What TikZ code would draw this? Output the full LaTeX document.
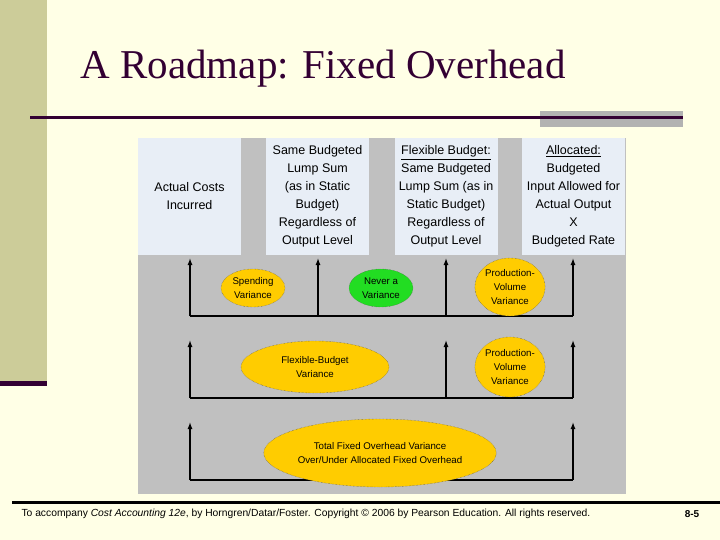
\documentclass[tikz,border=0pt]{standalone}
\usepackage{fontspec}
\setmainfont{Liberation Serif}
\setsansfont{Liberation Sans}
\usetikzlibrary{shapes.geometric,arrows.meta}
\definecolor{cream}{HTML}{FFFFE6}
\definecolor{olive}{HTML}{CCCC99}
\definecolor{plum}{HTML}{330033}
\definecolor{panel}{HTML}{C0C0C0}
\definecolor{hdr}{HTML}{E8EEF6}
\definecolor{gold}{HTML}{FFCC00}
\definecolor{grn}{HTML}{22DD22}
\tikzset{
 hbox/.style={fill=hdr,draw=none,minimum width=103pt,minimum height=117pt,inner sep=0pt,align=center,font=\sffamily\fontsize{12.5}{18}\selectfont,text=black},
 var/.style={ellipse,draw=black!70,densely dotted,fill=gold,inner sep=0pt,align=center,font=\sffamily\fontsize{9.7}{14}\selectfont},
 arr/.style={-{Latex[length=7pt,width=5pt]},line width=1.3pt},
 base/.style={line width=1.3pt}
}
\begin{document}
\begin{tikzpicture}[x=1pt,y=-1pt]
\fill[cream] (0,0) rectangle (720,540);
\useasboundingbox (0,0) rectangle (720,540);
\fill[olive] (0,0) rectangle (47,385);
\fill[plum] (0,381) rectangle (47,386);
\fill[black!30] (540,111) rectangle (683,127);
\fill[plum] (30,116) rectangle (683,119);
\node[anchor=west,font=\fontsize{41}{44}\selectfont,text=plum] (title) at (77,69) {A Roadmap: Fixed Overhead};
\fill[panel] (138,138) rectangle (626,494);
\node[hbox] (h1) at (189.5,196.5) {Actual Costs\\Incurred};
\node[hbox] (h2) at (317.5,196.5) {Same Budgeted\\Lump Sum\\(as in Static\\Budget)\\Regardless of\\Output Level};
\node[hbox] (h3) at (446,196.5) {\underline{Flexible Budget:}\\Same Budgeted\\Lump Sum (as in\\Static Budget)\\Regardless of\\Output Level};
\node[hbox] (h4) at (573.5,196.5) {\underline{Allocated:}\\Budgeted\\Input Allowed for\\Actual Output\\X\\Budgeted Rate};
% row 1
\coordinate (a1) at (190,316); \coordinate (b1) at (318,316); \coordinate (c1) at (446,316); \coordinate (d1) at (573,316);
\coordinate (ta1) at (190,258); \coordinate (tb1) at (318,258); \coordinate (tc1) at (446,258); \coordinate (td1) at (573,258);
\draw[base] (a1) -- (d1);
\draw[arr] (a1) -- (ta1); \draw[arr] (b1) -- (tb1); \draw[arr] (c1) -- (tc1); \draw[arr] (d1) -- (td1);
\node[var,minimum width=64pt,minimum height=38pt] (sv) at (253,288) {Spending\\Variance};
\node[var,fill=grn,minimum width=64pt,minimum height=38pt] (nv) at (381,288) {Never a\\Variance};
\node[var,minimum width=64pt,minimum height=58pt] (pv1) at (510,287) {Production-\\Volume\\Variance};
% row 2
\coordinate (a2) at (190,398); \coordinate (c2) at (446,398); \coordinate (d2) at (573,398);
\coordinate (ta2) at (190,340); \coordinate (tc2) at (446,340); \coordinate (td2) at (573,340);
\draw[base] (a2) -- (d2);
\draw[arr] (a2) -- (ta2); \draw[arr] (c2) -- (tc2); \draw[arr] (d2) -- (td2);
\node[var,minimum width=148pt,minimum height=52pt] (fb) at (315,367) {Flexible-Budget\\Variance};
\node[var,minimum width=64pt,minimum height=60pt] (pv2) at (510,367) {Production-\\Volume\\Variance};
% row 3
\coordinate (a3) at (190,480); \coordinate (d3) at (573,480);
\coordinate (ta3) at (190,422); \coordinate (td3) at (573,422);
\draw[base] (a3) -- (d3);
\draw[arr] (a3) -- (ta3); \draw[arr] (d3) -- (td3);
\node[var,minimum width=228pt,minimum height=68pt] (tot) at (380,453) {Total Fixed Overhead Variance\\Over/Under Allocated Fixed Overhead};
% footer
\fill[black] (12,501) rectangle (720,503.5);
\node[anchor=west,font=\sffamily\fontsize{10.3}{12}\selectfont] (foot) at (18,514) {To accompany \textit{Cost Accounting 12e}, by Horngren/Datar/Foster. Copyright \textcopyright{} 2006 by Pearson Education. All rights reserved.};
\node[font=\sffamily\bfseries\fontsize{10}{12}\selectfont] (pg) at (692,514) {8-5};
\end{tikzpicture}
\end{document}
